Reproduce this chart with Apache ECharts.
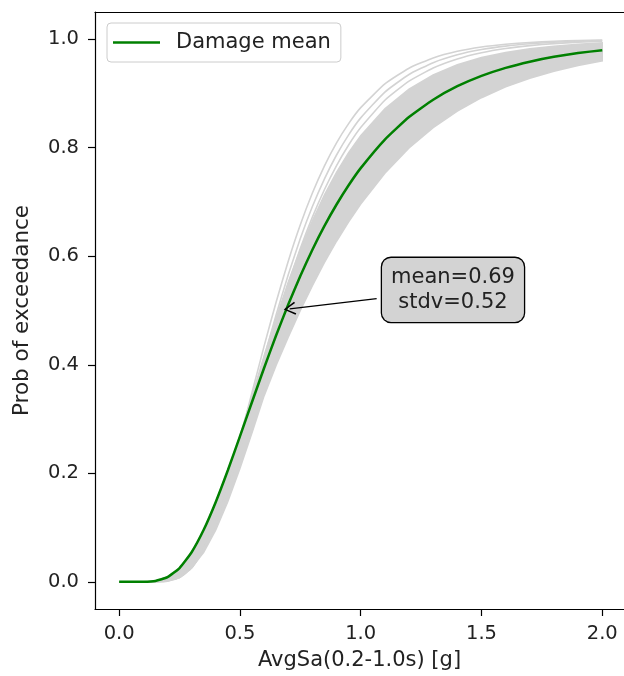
<!DOCTYPE html>
<html>
<head>
<meta charset="utf-8">
<script src="https://cdn.jsdelivr.net/npm/echarts@6/dist/echarts.min.js"></script>
<style>
  html, body { margin: 0; padding: 0; background: #fff; }
  #chart { width: 624px; height: 676px; }
</style>
</head>
<body>
<div id="chart"></div>
<script>
// intensity values (AvgSa, g)
var xs = [0, 0.05, 0.1, 0.15, 0.2, 0.25, 0.3, 0.35, 0.4, 0.45, 0.5, 0.55, 0.6, 0.65, 0.7, 0.75, 0.8, 0.85, 0.9, 0.95,
  1.0, 1.1, 1.2, 1.3, 1.4, 1.5, 1.6, 1.7, 1.8, 1.9, 2.0];

// green mean fragility curve
var meanP = [0, 0, 0.0001, 0.0017, 0.0086, 0.0255, 0.0546, 0.0959, 0.1472, 0.2056, 0.268, 0.3314, 0.394, 0.4543, 0.511,
  0.5637, 0.612, 0.6558, 0.6953, 0.7307, 0.7623, 0.815, 0.8564, 0.8884, 0.9132, 0.9323, 0.9471, 0.9585, 0.9674, 0.9743, 0.9797];

// grey band of the simulated curves (upper / lower edge)
var bandHigh = [0, 0, 0.0002, 0.002, 0.0091, 0.0255, 0.0546, 0.0959, 0.1472, 0.2056, 0.2687, 0.3427, 0.4161, 0.4864, 0.552,
  0.6118, 0.6655, 0.713, 0.7546, 0.7908, 0.8221, 0.8718, 0.908, 0.934, 0.9527, 0.966, 0.9755, 0.9822, 0.9871, 0.9906, 0.9931];
var bandLow = [0, 0, 0, 0.0002, 0.0022, 0.0094, 0.0259, 0.0545, 0.0957, 0.1481, 0.2089, 0.2748, 0.3427, 0.3992, 0.451,
  0.5, 0.5459, 0.5885, 0.6276, 0.6635, 0.6963, 0.753, 0.7994, 0.837, 0.8675, 0.8921, 0.912, 0.928, 0.941, 0.9515, 0.96];

// the few steeper grey curves that sit apart from the band
var curveA = [0, 0, 0, 0.0001, 0.0014, 0.008, 0.026, 0.0609, 0.1141, 0.1832, 0.2634, 0.3488, 0.4343, 0.5158, 0.5908,
  0.6579, 0.7164, 0.7666, 0.809, 0.8444, 0.8738, 0.9175, 0.9465, 0.9654, 0.9776, 0.9855, 0.9906, 0.9939, 0.996, 0.9974, 0.9983];
var curveB = [0, 0, 0, 0.0001, 0.0015, 0.008, 0.0255, 0.0586, 0.1088, 0.174, 0.2498, 0.3311, 0.4132, 0.4923, 0.5659,
  0.6325, 0.6915, 0.7426, 0.7865, 0.8237, 0.8549, 0.9025, 0.9349, 0.9567, 0.9712, 0.9808, 0.9872, 0.9914, 0.9943, 0.9961, 0.9974];
var curveC = [0, 0, 0, 0.0002, 0.0019, 0.0092, 0.0276, 0.061, 0.1103, 0.1734, 0.246, 0.3237, 0.4022, 0.4781, 0.5492,
  0.6141, 0.672, 0.7229, 0.767, 0.805, 0.8372, 0.8874, 0.9225, 0.9469, 0.9636, 0.975, 0.9828, 0.9881, 0.9918, 0.9943, 0.996];

var xTicks = [0, 0.5, 1.0, 1.5, 2.0];
var yTicks = [0, 0.2, 0.4, 0.6, 0.8, 1.0];

var annotText = 'mean=0.69\nstdv=0.52';
var arrowFrom = [1.066, 0.522];
var arrowTo = [0.706, 0.503];
var boxAt = [1.382, 0.538];

var FONT = 'DejaVu Sans';
var GREY = '#d3d3d3';
var X_MIN = -0.1, X_MAX = 2.09;

function pairs(ys) {
  return xs.map(function (x, i) { return [x, ys[i]]; });
}

function greyLine(name, ys) {
  return {
    name: name,
    type: 'line',
    data: pairs(ys),
    showSymbol: false,
    symbol: 'none',
    smooth: 0.15,
    silent: true,
    lineStyle: { color: GREY, width: 1.6 },
    z: 2
  };
}

var chart = echarts.init(document.getElementById('chart'), null, { renderer: 'canvas' });

var option = {
  animation: false,
  backgroundColor: '#fff',
  grid: { left: 95, top: 12, right: 0, bottom: 66 },
  legend: {
    left: 107, top: 23,
    data: [{ name: 'Damage mean', icon: 'rect' }],
    itemWidth: 47, itemHeight: 2.5,
    padding: [7, 10, 7, 6],
    backgroundColor: 'rgba(255,255,255,0.8)',
    borderColor: '#cccccc', borderWidth: 1, borderRadius: 4,
    selectedMode: false,
    textStyle: { fontFamily: FONT, fontSize: 21, color: '#222', lineHeight: 25, padding: [0, 0, 0, 11] }
  },
  xAxis: [{
    type: 'value', min: X_MIN, max: X_MAX,
    name: 'AvgSa(0.2-1.0s) [g]', nameLocation: 'middle', nameGap: 41,
    nameTextStyle: { fontFamily: FONT, fontSize: 21, color: '#222' },
    axisLine: { show: true, onZero: false, lineStyle: { color: '#000', width: 1.2 } },
    axisTick: { show: true, length: 7, customValues: xTicks, lineStyle: { color: '#000', width: 1.2 } },
    axisLabel: {
      customValues: xTicks, margin: 15, fontFamily: FONT, fontSize: 19.5, color: '#222',
      formatter: function (v) { return v.toFixed(1); }
    },
    splitLine: { show: false }
  }, {
    // top frame line only
    type: 'value', position: 'top', min: X_MIN, max: X_MAX,
    axisLine: { show: true, onZero: false, lineStyle: { color: '#000', width: 1.2 } },
    axisTick: { show: false }, axisLabel: { show: false }, splitLine: { show: false }
  }],
  yAxis: {
    type: 'value', min: -0.05, max: 1.05,
    name: 'Prob of exceedance', nameLocation: 'middle', nameGap: 62,
    nameTextStyle: { fontFamily: FONT, fontSize: 21.5, color: '#222' },
    axisLine: { show: true, onZero: false, lineStyle: { color: '#000', width: 1.2 } },
    axisTick: { show: true, length: 7, customValues: yTicks, lineStyle: { color: '#000', width: 1.2 } },
    axisLabel: {
      customValues: yTicks, margin: 16, fontFamily: FONT, fontSize: 19.5, color: '#222',
      formatter: function (v) { return v.toFixed(1); }
    },
    splitLine: { show: false }
  },
  series: [
    {
      name: 'band',
      type: 'custom',
      silent: true,
      clip: true,
      z: 1,
      data: [[xs[0], bandLow[0]]],
      renderItem: function (params, api) {
        var pts = [];
        for (var i = 0; i < xs.length; i++) pts.push(api.coord([xs[i], bandHigh[i]]));
        for (var j = xs.length - 1; j >= 0; j--) pts.push(api.coord([xs[j], bandLow[j]]));
        return {
          type: 'polygon',
          shape: { points: pts },
          style: { fill: GREY, stroke: GREY, lineWidth: 1.5 }
        };
      }
    },
    greyLine('g1', curveA),
    greyLine('g2', curveB),
    greyLine('g3', curveC),
    {
      name: 'Damage mean',
      type: 'line',
      data: pairs(meanP),
      showSymbol: false,
      symbol: 'none',
      smooth: 0.15,
      itemStyle: { color: '#008000' },
      lineStyle: { color: '#008000', width: 2.5 },
      z: 3,
      markLine: {
        silent: true,
        symbol: ['none', 'path://M0,0 L6,10 L4.8,10.8 L0,2.4 L-4.8,10.8 L-6,10 Z'],
        symbolSize: [13, 12],
        lineStyle: { color: '#000', width: 1.3, type: 'solid' },
        label: { show: false },
        data: [[{ coord: arrowFrom }, { coord: arrowTo }]]
      },
      markPoint: {
        silent: true,
        symbol: 'rect',
        symbolSize: 1,
        itemStyle: { color: 'rgba(0,0,0,0)' },
        label: {
          show: true, position: 'inside', formatter: annotText,
          fontFamily: FONT, fontSize: 21, lineHeight: 25, color: '#222', align: 'center',
          backgroundColor: GREY, borderColor: '#000', borderWidth: 1.3, borderRadius: 9,
          padding: [7, 9]
        },
        data: [{ coord: boxAt }]
      }
    }
  ]
};

chart.setOption(option);
</script>
</body>
</html>
